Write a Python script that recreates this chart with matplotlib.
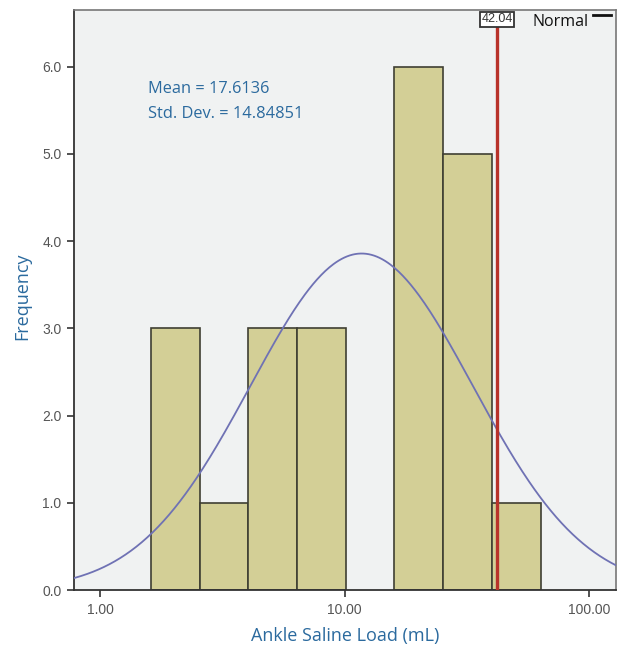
import numpy as np
import matplotlib
matplotlib.use("Agg")
import matplotlib.pyplot as plt

# ---- data ----
bin_edges = [1.617, 2.56, 4.03, 6.40, 10.14, 15.92, 25.3, 40.1, 63.6]
counts = [3, 1, 3, 3, 0, 6, 5, 1]
ref_value = 42.04
mean_val = 17.6136
sd_val = 14.84851
# fitted normal curve on log10 scale (as drawn)
curve_mu_log = 1.07
curve_sd_log = 0.455
n_total = sum(counts)
log_bin_width = 0.2
yticks = [0, 1, 2, 3, 4, 5, 6]
xticks = [1, 10, 100]
xtick_labels = ["1.00", "10.00", "100.00"]

blue = "#2b6a9e"
fig = plt.figure(figsize=(6.26, 6.49), dpi=100)
ax = fig.add_axes([74/626, 59/649, 542/626, 580/649])
ax.set_facecolor("#f0f2f2")
ax.set_xscale("log")
ax.set_xlim(0.783, 128.9)
ax.set_ylim(0, 6.65)

for i, c in enumerate(counts):
    if c == 0:
        continue
    l, r = bin_edges[i], bin_edges[i + 1]
    ax.bar(l, c, width=r - l, align="edge", facecolor="#d3cf96",
           edgecolor="#3f3f33", linewidth=1.2, zorder=2)

xs = np.logspace(np.log10(0.783), np.log10(128.9), 400)
lx = np.log10(xs)
ys = n_total * log_bin_width / (curve_sd_log * np.sqrt(2 * np.pi)) * \
    np.exp(-0.5 * ((lx - curve_mu_log) / curve_sd_log) ** 2)
ax.plot(xs, ys, color="#6f72b4", linewidth=1.3, zorder=3)

ax.plot([ref_value, ref_value], [0, 6.47], color="#b8322a", linewidth=2.4,
        zorder=4, solid_capstyle="butt")
ax.text(ref_value, 6.545, f"{ref_value:.2f}", ha="center", va="center",
        fontsize=9, family="Liberation Sans", color="#333333", zorder=5,
        bbox=dict(boxstyle="square,pad=0.12", facecolor="white",
                  edgecolor="#333333", linewidth=1.3))

fig.text(148/626, (649 - 89)/649, f"Mean = {mean_val}",
         fontsize=11.8, family="Open Sans", color=blue, va="center")
fig.text(148/626, (649 - 114)/649, f"Std. Dev. = {sd_val}",
         fontsize=11.8, family="Open Sans", color=blue, va="center")

fig.text(533/626, (649 - 22)/649, "Normal", fontsize=11.5, family="Open Sans",
         color="#111111", va="center")
fig.add_artist(plt.Line2D([593/626, 611/626], [(649 - 15)/649]*2,
                          color="#111111", linewidth=2))

ax.set_xticks(xticks)
ax.set_xticklabels(xtick_labels)
ax.xaxis.set_minor_locator(matplotlib.ticker.NullLocator())
ax.set_yticks(yticks)
ax.set_yticklabels([f"{v:.1f}" for v in yticks])
ax.tick_params(axis="both", direction="out", length=5, width=1.2,
               color="#333333", labelsize=10, labelcolor="#555555", pad=4)
for lab in ax.get_xticklabels() + ax.get_yticklabels():
    lab.set_family("Liberation Sans")
for s in ["left", "bottom"]:
    ax.spines[s].set_color("#333333")
    ax.spines[s].set_linewidth(1.3)
for s in ["top", "right"]:
    ax.spines[s].set_color("#777777")
    ax.spines[s].set_linewidth(1.2)

fig.text(345/626, (649 - 636)/649, "Ankle Saline Load (mL)", ha="center",
         va="center", fontsize=13, family="Open Sans", color=blue)
fig.text(22/626, (649 - 296)/649, "Frequency", ha="center", va="center",
         rotation=90, fontsize=13, family="Open Sans", color=blue)

fig.savefig("out.png", dpi=100)
